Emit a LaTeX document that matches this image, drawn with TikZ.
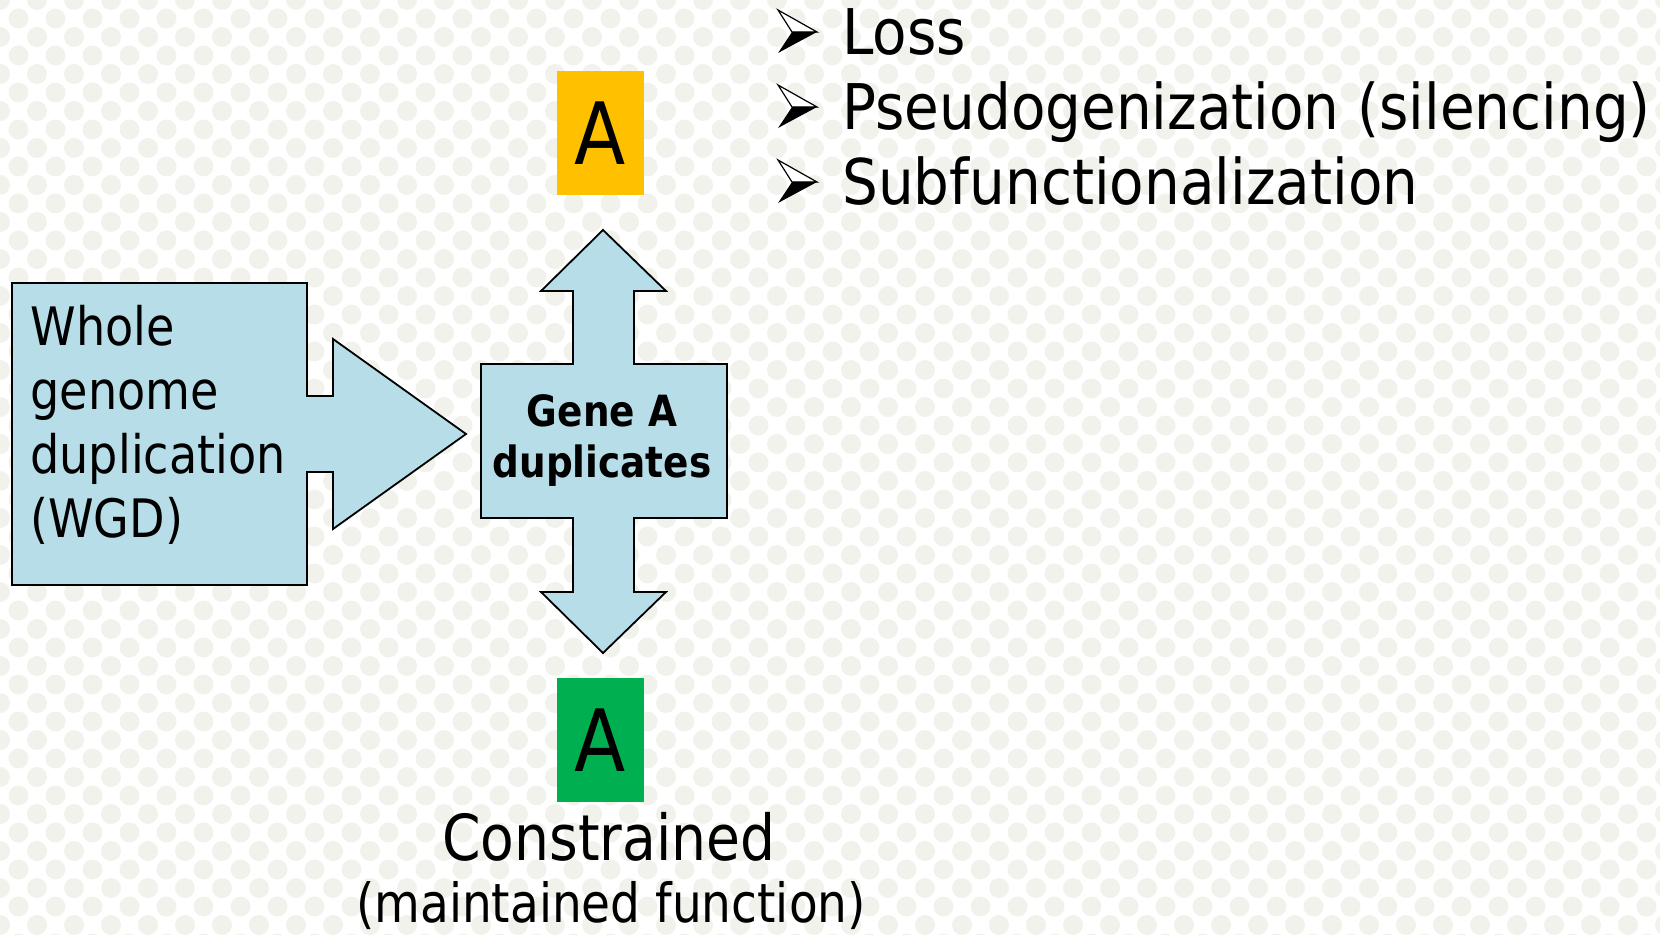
\documentclass[tikz,border=0pt]{standalone}
\usepackage{fontspec}
\setmainfont{DejaVu Sans}[FakeStretch=0.87]
\newfontfamily\listfont{DejaVu Sans}[FakeStretch=0.895]
\usetikzlibrary{calc}

\definecolor{calloutblue}{HTML}{B7DEE8}
\definecolor{geneyellow}{HTML}{FFC000}
\definecolor{genegreen}{HTML}{00B050}
\definecolor{dotgray}{HTML}{F2F2EC}

\tikzset{
  callout/.style={draw=black, line width=0.9pt, fill=calloutblue, line join=miter},
  genebox/.style={inner sep=0pt, minimum width=43.5pt, minimum height=62pt,
    font=\fontsize{43}{50}\selectfont},
  label/.style={inner sep=0pt, text=black}
}

\begin{document}
\begin{tikzpicture}[x=0.5pt, y=-0.5pt]

\useasboundingbox (0,0) rectangle (1660,935);
\fill[white] (0,0) rectangle (1660,935);
\foreach \r in {0,...,51}
  \foreach \c in {0,...,45}
    \fill[dotgray] ({37*\c + 18.5*mod(\r,2)}, {18.5*\r}) circle[radius=5pt];

% whole genome duplication callout
\draw[callout] (12,283) -- (307,283) -- (307,396) -- (333,396) -- (333,339)
  -- (466,434) -- (333,529) -- (333,472) -- (307,472) -- (307,585)
  -- (12,585) -- cycle;
\node[label, anchor=west, align=left, font=\fontsize{26.5}{32}\selectfont] (wgd) at (30,425)
  {Whole\\genome\\duplication\\(WGD)};

% gene A duplicates callout
\draw[callout] (603,230) -- (666,291) -- (634,291) -- (634,364) -- (727,364)
  -- (727,518) -- (634,518) -- (634,592) -- (666,592) -- (603,653)
  -- (541,592) -- (573,592) -- (573,518) -- (481,518) -- (481,364)
  -- (573,364) -- (573,291) -- (541,291) -- cycle;
\node[label, align=center, font=\bfseries\fontsize{21.5}{25.5}\selectfont] (dup) at (602,441)
  {Gene A\\duplicates};

% the two copies
\node[genebox, fill=geneyellow] (copyup) at (600.5,133.5) {A};
\node[genebox, fill=genegreen] (copydown) at (600.5,740) {A};

\node[label, anchor=base, font=\fontsize{31.7}{38}\selectfont] (constr) at (609,860) {Constrained};
\node[label, anchor=base, font=\fontsize{27}{32}\selectfont] (maint) at (611,922) {(maintained function)};

% fates of the other copy
\foreach \y/\txt [count=\i] in {0/Loss, 75/Pseudogenization (silencing), 150/Subfunctionalization} {
  \coordinate (b\i) at (778,{10+\y});
  \draw[line width=0.6pt, fill=white] (b\i) -- ++(39,22) -- ++(-25,0) -- cycle;
  \fill[black] ($(b\i)+(14,22)$) -- ++(25,0) -- ++(-39,21) -- cycle;
  \node[label, anchor=base west, font=\listfont\fontsize{31.5}{37}\selectfont] (fate\i) at (842,{55+\y}) {\txt};
}

\end{tikzpicture}
\end{document}
